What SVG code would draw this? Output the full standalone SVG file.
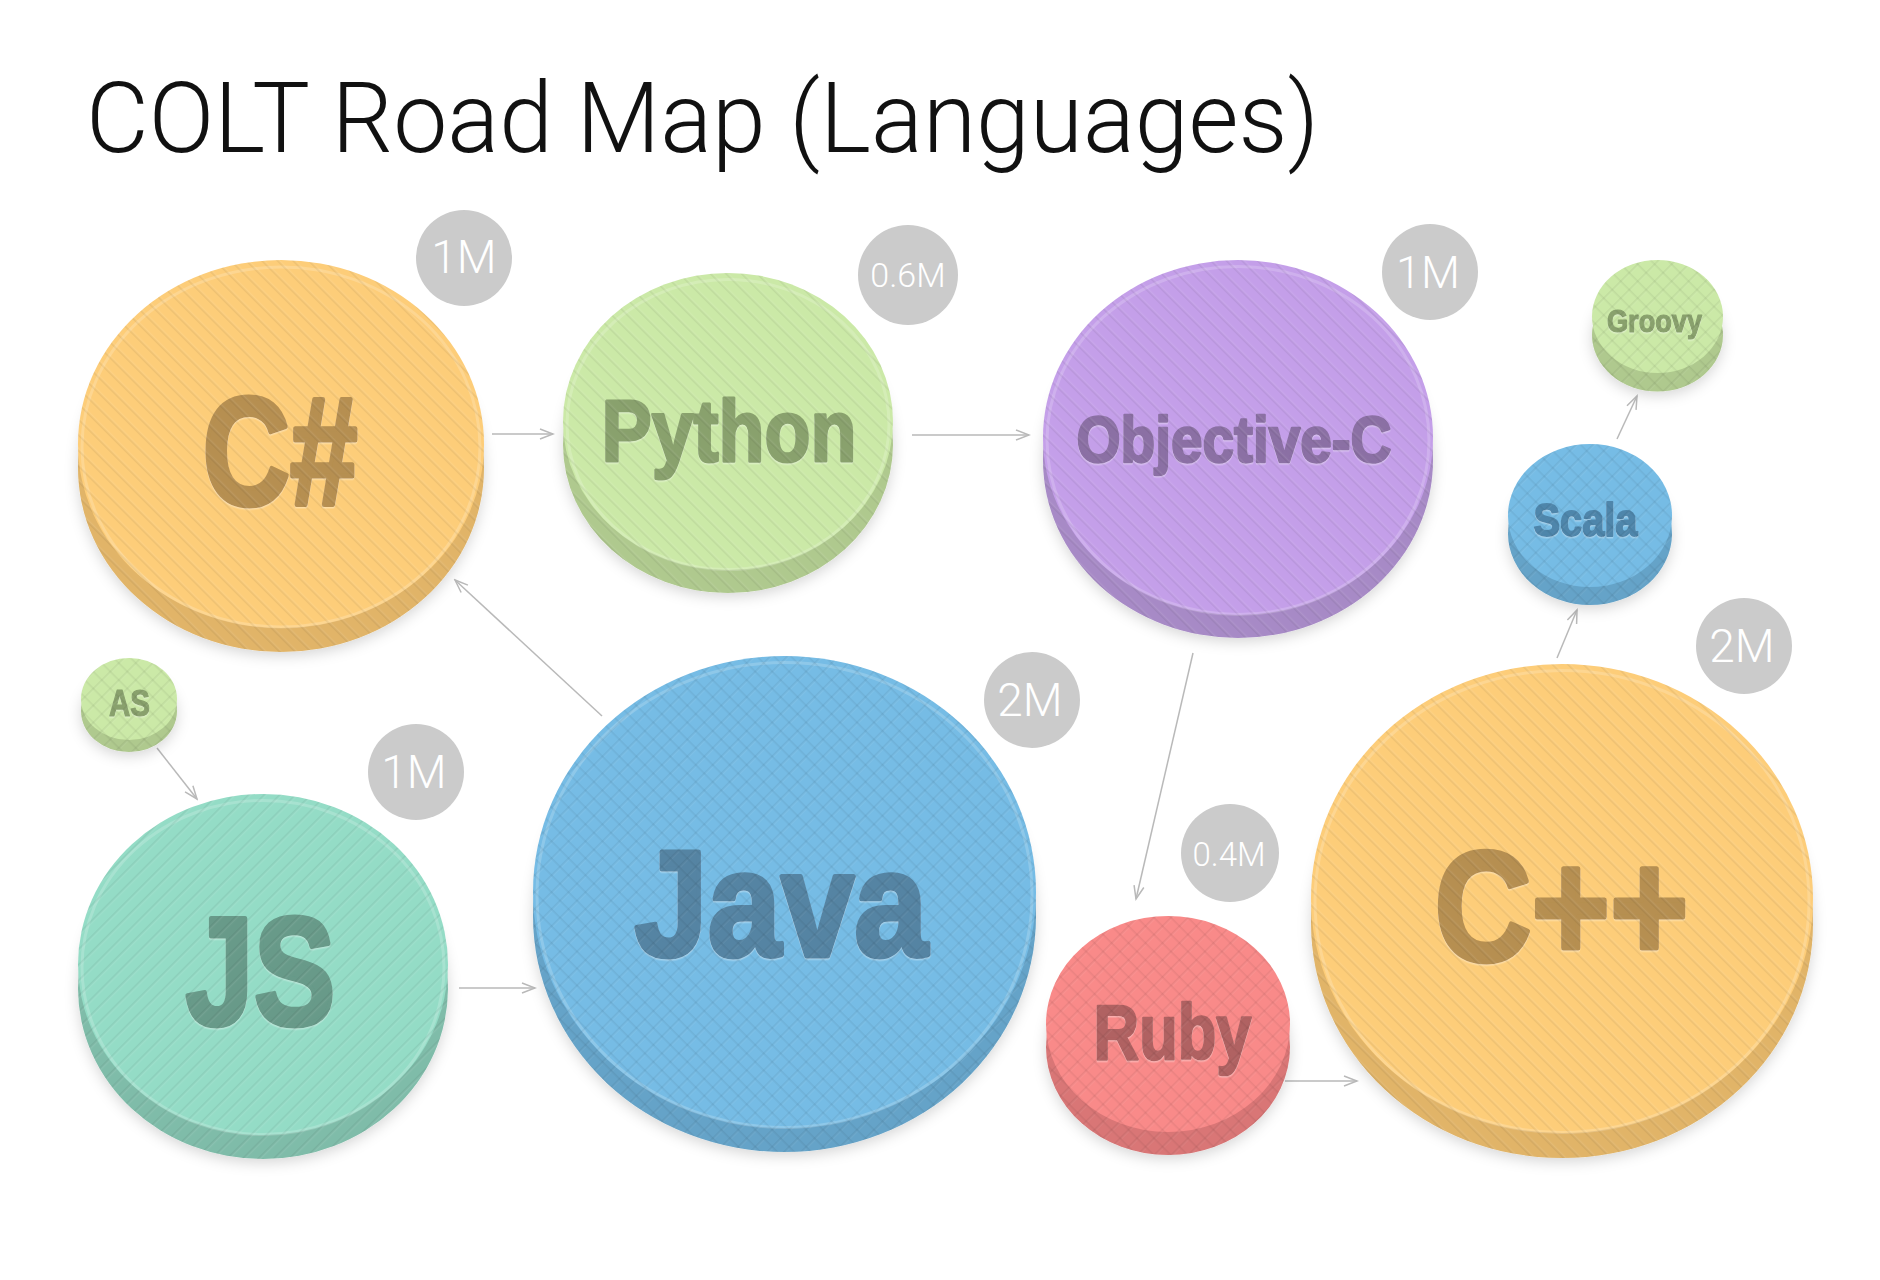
<svg xmlns="http://www.w3.org/2000/svg" width="1880" height="1280" viewBox="0 0 1880 1280">
<defs>
  <style>
    .title{font-family:Roboto,"Liberation Sans",sans-serif;font-weight:300;font-size:98px;fill:#111}
    .lbl{font-family:"Liberation Sans",Arial,sans-serif;font-weight:700;text-anchor:middle;stroke-linejoin:round}
    .badge circle{fill:#cbcbcb}
    .badge text{font-family:Roboto,"Liberation Sans",sans-serif;font-weight:300;fill:#fff;text-anchor:middle}
    .conn{stroke:#b9b9b9;stroke-width:1.5;fill:none;marker-end:url(#arr)}
    .hl{fill:none;stroke:#fff;stroke-opacity:0.18;stroke-width:3}
    .orange .side{fill:#e1b467}.orange .face{fill:#fdcd79}.orange .lbl{fill:#b68f51;stroke:#b68f51}
    .green .side{fill:#afc98e}.green .face{fill:#cbe9a7}.green .lbl{fill:#89a16d;stroke:#89a16d}
    .purple .side{fill:#a78ac6}.purple .face{fill:#c49fe9}.purple .lbl{fill:#8b6fa4;stroke:#8b6fa4}
    .blue .side{fill:#65a3c8}.blue .face{fill:#76bce5}.blue .lbl{fill:#5584a3;stroke:#5584a3}
    .teal .side{fill:#7fbca9}.teal .face{fill:#94dcc6}.teal .lbl{fill:#679a89;stroke:#679a89}
    .red .side{fill:#d97676}.red .face{fill:#f98a89}.red .lbl{fill:#b06262;stroke:#b06262}
  </style>
  <filter id="shadow" x="-20%" y="-20%" width="140%" height="140%">
    <feDropShadow dx="0" dy="4" stdDeviation="7" flood-color="#000" flood-opacity="0.16"/>
  </filter>
  <filter id="engrave" x="-10%" y="-10%" width="120%" height="130%">
    <feDropShadow dx="0" dy="1.5" stdDeviation="0.6" flood-color="#fff" flood-opacity="0.3"/>
  </filter>
  <pattern id="stripeB" width="11" height="11" patternUnits="userSpaceOnUse" patternTransform="rotate(-45)">
    <rect x="0" y="0" width="1.6" height="11" fill="#000" fill-opacity="0.06"/>
    <rect x="1.6" y="0" width="1.6" height="11" fill="#fff" fill-opacity="0.08"/>
  </pattern>
  <pattern id="stripeF" width="11" height="11" patternUnits="userSpaceOnUse" patternTransform="rotate(45)">
    <rect x="0" y="0" width="1.6" height="11" fill="#000" fill-opacity="0.06"/>
    <rect x="1.6" y="0" width="1.6" height="11" fill="#fff" fill-opacity="0.08"/>
  </pattern>
  <pattern id="hatch" width="12" height="12" patternUnits="userSpaceOnUse" patternTransform="rotate(45)">
    <rect x="0" y="0" width="1.6" height="12" fill="#000" fill-opacity="0.055"/>
    <rect x="0" y="0" width="12" height="1.6" fill="#000" fill-opacity="0.055"/>
    <rect x="1.6" y="1.6" width="1.2" height="10.4" fill="#fff" fill-opacity="0.06"/>
  </pattern>
  <marker id="arr" markerWidth="16" markerHeight="12" refX="14" refY="6" orient="auto" markerUnits="userSpaceOnUse">
    <path d="M1,1 L14,6 L1,11" fill="none" stroke="#b9b9b9" stroke-width="1.5"/>
  </marker>
</defs>

<rect width="1880" height="1280" fill="#fff"/>

<text class="title" x="86" y="152" textLength="1233" lengthAdjust="spacingAndGlyphs">COLT Road Map (Languages)</text>

<g id="connectors">
  <line class="conn" x1="492" y1="434" x2="553" y2="434"/>
  <line class="conn" x1="912" y1="435" x2="1029" y2="435"/>
  <line class="conn" x1="602" y1="716" x2="455" y2="580"/>
  <line class="conn" x1="1193" y1="653" x2="1136" y2="899"/>
  <line class="conn" x1="157" y1="748" x2="197" y2="799"/>
  <line class="conn" x1="459" y1="988" x2="535" y2="988"/>
  <line class="conn" x1="1285" y1="1081" x2="1357" y2="1081"/>
  <line class="conn" x1="1557" y1="658" x2="1577" y2="610"/>
  <line class="conn" x1="1617" y1="439" x2="1637" y2="396"/>
</g>

<g id="node-csharp" class="node orange">
  <g filter="url(#shadow)"><ellipse class="side" cx="281" cy="468" rx="203" ry="184"/></g>
  <ellipse cx="281" cy="468" rx="203" ry="184" fill="url(#stripeB)"/>
  <ellipse class="face" cx="281" cy="444" rx="203" ry="184"/>
  <ellipse class="hl" cx="281" cy="447" rx="199" ry="180"/>
  <text class="lbl" x="280" y="505" font-size="154" stroke-width="5" textLength="155" lengthAdjust="spacingAndGlyphs" filter="url(#engrave)">C#</text>
  <ellipse cx="281" cy="444" rx="203" ry="184" fill="url(#stripeB)"/>
</g>
<g id="badge-csharp" class="badge"><circle cx="464" cy="258" r="48"/><text x="464" y="273" font-size="46">1M</text></g>

<g id="node-python" class="node green">
  <g filter="url(#shadow)"><ellipse class="side" cx="728" cy="444.5" rx="165" ry="148.5"/></g>
  <ellipse cx="728" cy="444.5" rx="165" ry="148.5" fill="url(#stripeB)"/>
  <ellipse class="face" cx="728" cy="421.5" rx="165" ry="148.5"/>
  <ellipse class="hl" cx="728" cy="424.5" rx="161" ry="145"/>
  <text class="lbl" x="729" y="461" font-size="87" stroke-width="3" textLength="255" lengthAdjust="spacingAndGlyphs" filter="url(#engrave)">Python</text>
  <ellipse cx="728" cy="421.5" rx="165" ry="148.5" fill="url(#stripeB)"/>
</g>
<g id="badge-python" class="badge"><circle cx="908" cy="275" r="50"/><text x="908" y="287" font-size="34">0.6M</text></g>

<g id="node-objc" class="node purple">
  <g filter="url(#shadow)"><ellipse class="side" cx="1238" cy="460.5" rx="195" ry="177.5"/></g>
  <ellipse cx="1238" cy="460.5" rx="195" ry="177.5" fill="url(#stripeB)"/>
  <ellipse class="face" cx="1238" cy="437.5" rx="195" ry="177.5"/>
  <ellipse class="hl" cx="1238" cy="440.5" rx="191" ry="174"/>
  <text class="lbl" x="1234" y="462" font-size="64" stroke-width="2.5" textLength="315" lengthAdjust="spacingAndGlyphs" filter="url(#engrave)">Objective-C</text>
  <ellipse cx="1238" cy="437.5" rx="195" ry="177.5" fill="url(#stripeB)"/>
</g>
<g id="badge-objc" class="badge"><circle cx="1430" cy="272" r="48"/><text x="1428" y="288" font-size="45">1M</text></g>

<g id="node-groovy" class="node green">
  <g filter="url(#shadow)"><ellipse class="side" cx="1657.5" cy="335" rx="65.5" ry="56.5"/></g>
  <ellipse cx="1657.5" cy="335" rx="65.5" ry="56.5" fill="url(#hatch)"/>
  <ellipse class="face" cx="1657.5" cy="316.5" rx="65.5" ry="56.5"/>
  <text class="lbl" x="1654.5" y="331.5" font-size="32" stroke-width="1.2" textLength="95" lengthAdjust="spacingAndGlyphs" filter="url(#engrave)">Groovy</text>
  <ellipse cx="1657.5" cy="316.5" rx="65.5" ry="56.5" fill="url(#hatch)"/>
</g>

<g id="node-scala" class="node blue">
  <g filter="url(#shadow)"><ellipse class="side" cx="1590" cy="533.5" rx="82" ry="71.5"/></g>
  <ellipse cx="1590" cy="533.5" rx="82" ry="71.5" fill="url(#hatch)"/>
  <ellipse class="face" cx="1590" cy="515.5" rx="82" ry="71.5"/>
  <text class="lbl" x="1585.5" y="536" font-size="45.4" stroke-width="1.8" textLength="104" lengthAdjust="spacingAndGlyphs" filter="url(#engrave)" style="fill:#4f86ab;stroke:#4f86ab">Scala</text>
  <ellipse cx="1590" cy="515.5" rx="82" ry="71.5" fill="url(#hatch)"/>
</g>

<g id="node-as" class="node green">
  <g filter="url(#shadow)"><ellipse class="side" cx="129" cy="711" rx="48" ry="41"/></g>
  <ellipse cx="129" cy="711" rx="48" ry="41" fill="url(#hatch)"/>
  <ellipse class="face" cx="129" cy="699" rx="48" ry="41"/>
  <text class="lbl" x="129.5" y="715.5" font-size="37.7" stroke-width="1.2" textLength="41" lengthAdjust="spacingAndGlyphs" filter="url(#engrave)">AS</text>
  <ellipse cx="129" cy="699" rx="48" ry="41" fill="url(#hatch)"/>
</g>

<g id="node-js" class="node teal">
  <g filter="url(#shadow)"><ellipse class="side" cx="263" cy="988.5" rx="185" ry="170.5"/></g>
  <ellipse cx="263" cy="988.5" rx="185" ry="170.5" fill="url(#stripeF)"/>
  <ellipse class="face" cx="263" cy="964.5" rx="185" ry="170.5"/>
  <ellipse class="hl" cx="263" cy="967.5" rx="181" ry="167"/>
  <text class="lbl" x="260.5" y="1025" font-size="154" stroke-width="5" textLength="150" lengthAdjust="spacingAndGlyphs" filter="url(#engrave)">JS</text>
  <ellipse cx="263" cy="964.5" rx="185" ry="170.5" fill="url(#stripeF)"/>
</g>
<g id="badge-js" class="badge"><circle cx="416" cy="772" r="48"/><text x="414" y="788" font-size="46">1M</text></g>

<g id="node-java" class="node blue">
  <g filter="url(#shadow)"><ellipse class="side" cx="784.5" cy="916" rx="251.5" ry="236"/></g>
  <ellipse cx="784.5" cy="916" rx="251.5" ry="236" fill="url(#hatch)"/>
  <ellipse class="face" cx="784.5" cy="892" rx="251.5" ry="236"/>
  <ellipse class="hl" cx="784.5" cy="895" rx="247.5" ry="232.5"/>
  <text class="lbl" x="781" y="956" font-size="150" stroke-width="5" textLength="293" lengthAdjust="spacingAndGlyphs" filter="url(#engrave)">Java</text>
  <ellipse cx="784.5" cy="892" rx="251.5" ry="236" fill="url(#hatch)"/>
</g>
<g id="badge-java" class="badge"><circle cx="1032" cy="700" r="48"/><text x="1030" y="716" font-size="46">2M</text></g>

<g id="node-ruby" class="node red">
  <g filter="url(#shadow)"><ellipse class="side" cx="1168" cy="1047" rx="122" ry="108"/></g>
  <ellipse cx="1168" cy="1047" rx="122" ry="108" fill="url(#hatch)"/>
  <ellipse class="face" cx="1168" cy="1024" rx="122" ry="108"/>
  <text class="lbl" x="1172.5" y="1059" font-size="77" stroke-width="2.5" textLength="158" lengthAdjust="spacingAndGlyphs" filter="url(#engrave)">Ruby</text>
  <ellipse cx="1168" cy="1024" rx="122" ry="108" fill="url(#hatch)"/>
</g>
<g id="badge-ruby" class="badge"><circle cx="1230" cy="853" r="49"/><text x="1229" y="866" font-size="33">0.4M</text></g>

<g id="node-cpp" class="node orange">
  <g filter="url(#shadow)"><ellipse class="side" cx="1562" cy="923.5" rx="251" ry="234.5"/></g>
  <ellipse cx="1562" cy="923.5" rx="251" ry="234.5" fill="url(#stripeB)"/>
  <ellipse class="face" cx="1562" cy="898.5" rx="251" ry="234.5"/>
  <ellipse class="hl" cx="1562" cy="901.5" rx="247" ry="231"/>
  <text class="lbl" x="1561.5" y="960" font-size="155" stroke-width="5" textLength="254" lengthAdjust="spacingAndGlyphs" filter="url(#engrave)">C++</text>
  <ellipse cx="1562" cy="898.5" rx="251" ry="234.5" fill="url(#stripeB)"/>
</g>
<g id="badge-cpp" class="badge"><circle cx="1744" cy="646" r="48"/><text x="1742" y="662" font-size="46">2M</text></g>
</svg>
